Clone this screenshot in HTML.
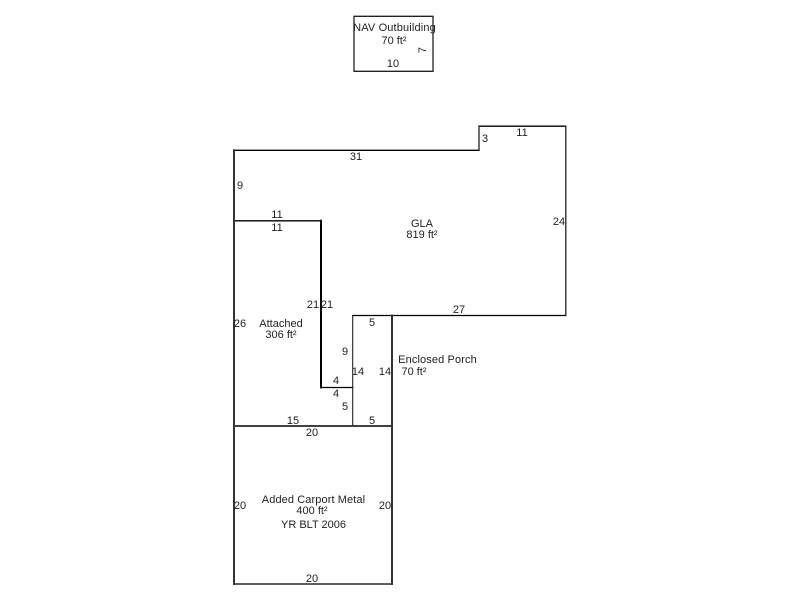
<!DOCTYPE html>
<html><head><meta charset="utf-8"><style>
html,body{margin:0;padding:0;background:#fff}
svg{display:block}
text{font-family:"Liberation Sans",Arial,sans-serif;font-size:11px;fill:#222;text-anchor:middle}
path{fill:none;stroke-linecap:square}
.h{stroke:#000;stroke-width:1.3}
.v{stroke:#333;stroke-width:2}
.t{stroke:#222;stroke-width:1.3}
.k{stroke:#000;stroke-width:2}
</style></head><body>
<svg width="800" height="600" viewBox="0 0 800 600" xmlns="http://www.w3.org/2000/svg">
<path class="t" d="M354 16.300H433M354 71.300H433M354 16.300V71.300M433 16.300V71.300"/>
<path class="h" d="M234 150.300H479M479 126.200H565.800M392 315.500H565.800M352.700 315.500H392M234 220.800H321M321 387.500H352.700M234 584H392"/>
<path class="h" style="stroke-width:1.6" d="M234 426H392"/>
<path class="v" d="M234 150.300V584M392 315.500V584"/>
<path class="k" d="M321 220.800V387.500"/>
<path class="t" d="M479 126.200V150.300M565.800 126.200V315.500"/>
<path class="t" style="stroke-width:1.1" d="M352.700 315.500V426"/>
<text style="letter-spacing:.15px" x="394.500" y="31">NAV Outbuilding</text>
<text x="394" y="44">70 ft²</text>
<text x="393" y="67">10</text>
<text transform="translate(426,50) rotate(-90)" x="0" y="0">7</text>
<text x="522" y="136">11</text>
<text x="485" y="142">3</text>
<text x="356" y="160">31</text>
<text x="240" y="189">9</text>
<text x="559" y="225">24</text>
<text x="277" y="218">11</text>
<text x="277" y="231">11</text>
<text x="422" y="227">GLA</text>
<text x="422" y="238">819 ft²</text>
<text x="313" y="308">21</text>
<text x="327" y="308">21</text>
<text x="459" y="313">27</text>
<text x="372" y="326">5</text>
<text x="240" y="327">26</text>
<text x="281" y="327">Attached</text>
<text x="281" y="338">306 ft²</text>
<text x="345" y="355">9</text>
<text style="letter-spacing:.12px" x="437.500" y="363">Enclosed Porch</text>
<text x="358" y="375">14</text>
<text x="385" y="375">14</text>
<text x="414" y="375">70 ft²</text>
<text x="336" y="384">4</text>
<text x="336" y="397">4</text>
<text x="345" y="410">5</text>
<text x="293" y="424">15</text>
<text x="372" y="424">5</text>
<text x="312" y="436">20</text>
<text style="letter-spacing:.1px" x="313.500" y="503">Added Carport Metal</text>
<text x="312" y="514">400 ft²</text>
<text x="313.500" y="528">YR BLT 2006</text>
<text x="240" y="509">20</text>
<text x="385" y="509">20</text>
<text x="312" y="582">20</text>
</svg>
</body></html>
